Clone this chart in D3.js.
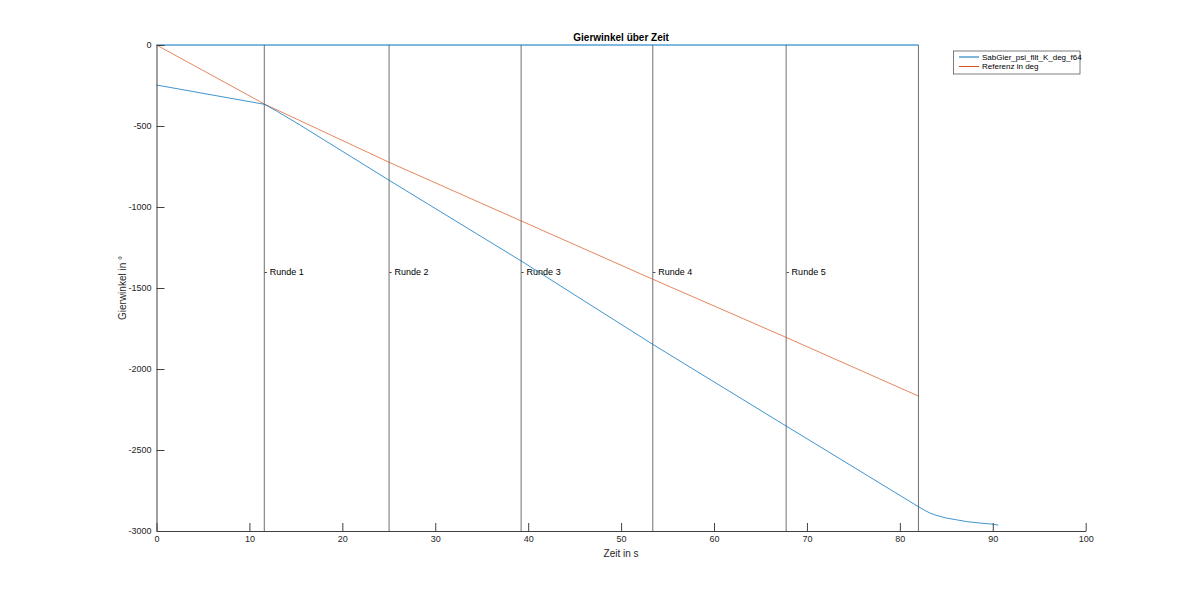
<!DOCTYPE html>
<html>
<head>
<meta charset="utf-8">
<script src="https://cdn.jsdelivr.net/npm/d3@7"></script>
<style>
  html, body { margin: 0; padding: 0; background: #fff; }
  svg { display: block; font-family: "Liberation Sans", Arial, sans-serif; }
</style>
</head>
<body>
<svg id="chart" width="1200" height="597"></svg>
<script>
// ---- data ----
const lapTimes = [11.6, 25.03, 39.24, 53.41, 67.76, 82.0];
const lapLabels = ["Runde 1", "Runde 2", "Runde 3", "Runde 4", "Runde 5"];
const lapLabelValue = -1400;

const sensorTime = [0, 11.6, 13, 15.45, 25.03, 39.24, 53.41, 67.76, 82.0, 82.6, 83.2, 83.9, 85, 86.2, 87.2, 88.6, 90.07, 90.6];
const sensorValues = [-247, -366, -410, -494, -835, -1333, -1848, -2352, -2850, -2870, -2888, -2903, -2920, -2932, -2942, -2951, -2958, -2964];

const refTime = [0, 11.6, 25.03, 39.24, 53.41, 67.76, 82.0];
const refValues = [0, -364, -724, -1086, -1446, -1805, -2167];

const zeroTime = [0, 82.0];
const zeroValues = [0, 0];

const xTicks = [0, 10, 20, 30, 40, 50, 60, 70, 80, 90, 100];
const yTicks = [0, -500, -1000, -1500, -2000, -2500, -3000];

const seriesNames = ["SabGier_psi_filt_K_deg_f64", "Referenz in deg"];
const seriesColors = ["#0072BD", "#D95319"];

// ---- layout ----
const svg = d3.select("#chart");
const pLeft = 156.5, pTop = 45, pRight = 1085.7, pBottom = 531;

const x = d3.scaleLinear().domain([0, 100]).range([pLeft, pRight]);
const y = d3.scaleLinear().domain([-3000, 0]).range([pBottom, pTop]);

const axisColor = "#404040";

// vertical lap lines
svg.append("g").selectAll("line").data(lapTimes).join("line")
  .attr("x1", d => x(d)).attr("x2", d => x(d))
  .attr("y1", y(0)).attr("y2", y(-3000))
  .attr("stroke", "#707070").attr("stroke-width", 1);

// lap labels
svg.append("g").selectAll("text").data(lapLabels).join("text")
  .attr("x", (d, i) => x(lapTimes[i]))
  .attr("y", y(lapLabelValue))
  .attr("dominant-baseline", "central")
  .attr("font-size", 9)
  .attr("fill", "#000")
  .text(d => "- " + d);

const line = d3.line().x(d => x(d[0])).y(d => y(d[1]));

// zero line
svg.append("path")
  .datum(zeroTime.map((t, i) => [t, zeroValues[i]]))
  .attr("d", line)
  .attr("fill", "none")
  .attr("stroke", seriesColors[0])
  .attr("stroke-opacity", 0.5)
  .attr("stroke-width", 2);

// reference
svg.append("path")
  .datum(refTime.map((t, i) => [t, refValues[i]]))
  .attr("d", line)
  .attr("fill", "none")
  .attr("stroke", seriesColors[1])
  .attr("stroke-opacity", 0.7)
  .attr("stroke-width", 1);

// sensor
svg.append("path")
  .datum(sensorTime.map((t, i) => [t, sensorValues[i]]))
  .attr("d", line)
  .attr("fill", "none")
  .attr("stroke", seriesColors[0])
  .attr("stroke-opacity", 0.75)
  .attr("stroke-width", 1);

// axes
const xAxis = svg.append("g")
  .attr("transform", `translate(0,${pBottom})`)
  .call(d3.axisBottom(x).tickValues(xTicks).tickFormat(d3.format("d")).tickSizeInner(-8).tickSizeOuter(0).tickPadding(5));
const yAxis = svg.append("g")
  .attr("transform", `translate(${pLeft},0)`)
  .call(d3.axisLeft(y).tickValues(yTicks).tickFormat(d => String(d)).tickSizeInner(-8).tickSizeOuter(0).tickPadding(5));

[xAxis, yAxis].forEach(g => {
  g.select(".domain").attr("stroke", axisColor);
  g.selectAll(".tick line").attr("stroke", axisColor);
  g.selectAll(".tick text").attr("fill", "#262626").attr("font-size", 9)
    .attr("font-family", "Liberation Sans, Arial, sans-serif");
});

// title and labels
svg.append("text")
  .attr("x", (pLeft + pRight) / 2).attr("y", 41)
  .attr("text-anchor", "middle")
  .attr("font-size", 10).attr("font-weight", "bold").attr("fill", "#000")
  .text("Gierwinkel über Zeit");

svg.append("text")
  .attr("x", (pLeft + pRight) / 2).attr("y", 557)
  .attr("text-anchor", "middle")
  .attr("font-size", 10).attr("fill", "#262626")
  .text("Zeit in s");

svg.append("text")
  .attr("transform", `translate(126,${(pTop + pBottom) / 2}) rotate(-90)`)
  .attr("text-anchor", "middle")
  .attr("font-size", 10).attr("fill", "#262626")
  .text("Gierwinkel in °");

// legend
const lg = svg.append("g");
lg.append("rect")
  .attr("x", 953.5).attr("y", 51).attr("width", 126.5).attr("height", 23)
  .attr("fill", "#fff").attr("stroke", "#262626").attr("stroke-width", 0.6);
seriesNames.forEach((name, i) => {
  const yy = 57 + i * 9.5;
  lg.append("line")
    .attr("x1", 959).attr("x2", 979).attr("y1", yy).attr("y2", yy)
    .attr("stroke", seriesColors[i]).attr("stroke-width", 1);
  lg.append("text")
    .attr("x", 982).attr("y", yy)
    .attr("dominant-baseline", "central")
    .attr("font-size", 8).attr("fill", "#000")
    .text(name);
});
</script>
</body>
</html>
